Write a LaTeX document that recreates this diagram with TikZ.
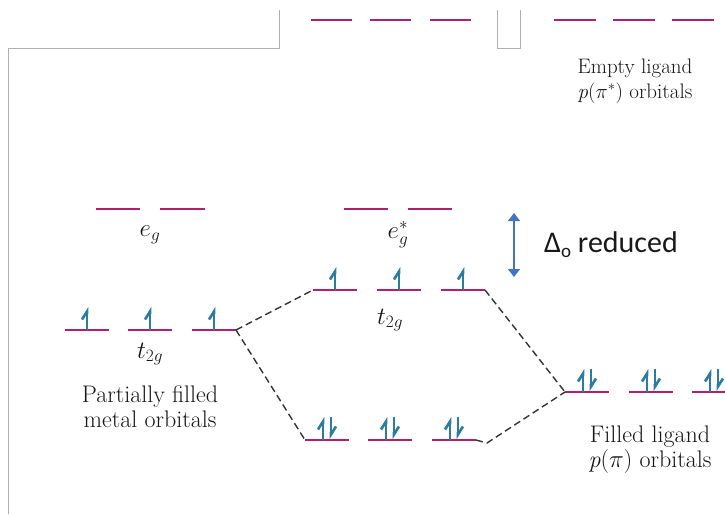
\documentclass[tikz,border=0pt]{standalone}
\usepackage{fontspec}
\newfontfamily\calib{Carlito}
\usetikzlibrary{arrows.meta}
\definecolor{lvl}{HTML}{B0206E}
\definecolor{spin}{HTML}{2B7C9E}
\definecolor{dblue}{HTML}{4472C4}
\definecolor{frame}{HTML}{B0B0B0}
\definecolor{txt}{HTML}{151515}
\tikzset{
  level/.style={draw=lvl, line width=1.8pt},
  conn/.style={draw=black!80, line width=1.4pt, dash pattern=on 7pt off 4pt},
  lbl/.style={font=\fontsize{24}{25}\selectfont, text=txt, align=center, inner sep=0pt},
  sym/.style={font=\fontsize{25}{26}\selectfont, text=txt, inner sep=0pt},
  upe/.style={draw=spin, line width=2.6pt, -{Straight Barb[left,length=8pt,width=10pt]}},
}
\newcommand{\orb}[4]{% name, x1, x2, y
  \coordinate (#1L) at (#2,#4);
  \coordinate (#1R) at (#3,#4);
  \draw[level] (#1L) -- (#1R);
}
\newcommand{\upspin}[2]{% xc, y
  \draw[upe] (#1,#2) -- (#1,#2-23);
}
\newcommand{\pairspin}[2]{%
  \draw[upe] (#1-4,#2) -- (#1-4,#2-23);
  \draw[upe] (#1+4,#2-23) -- (#1+4,#2-1);
}
\begin{document}
\begin{tikzpicture}[x=1pt,y=-1pt]
\useasboundingbox (0,0) rectangle (725,514);
% frame lines
\draw[frame, line width=0.8pt] (279,10) -- (279,48) -- (8,48) -- (8,514);
\draw[frame, line width=0.8pt] (497,10) -- (497,48) -- (520,48) -- (520,10);
% top empty ligand pi*
\orb{pa}{311}{352}{20}
\orb{pb}{370}{411}{20}
\orb{pc}{430}{471}{20}
\orb{qa}{554}{596}{20}
\orb{qb}{613}{655}{20}
\orb{qc}{672}{714}{20}
\node[lbl, font=\fontsize{21}{25}\selectfont] (emptylbl) at (635,81) {Empty ligand\\\textit{p}($\pi^{*}$) orbitals};
% metal eg
\orb{ega}{96}{140}{209}
\orb{egb}{160}{205}{209}
\node[sym] (eglbl) at (150,235) {$e_g$};
% eg*
\orb{esa}{344}{388}{209}
\orb{esb}{408}{452}{209}
\node[sym] (eslbl) at (398,235) {$e_g^{*}$};
% delta arrow
\coordinate (dtop) at (514,213);
\coordinate (dbot) at (514,277);
\draw[dblue, line width=1.5pt, {Triangle[length=8pt,width=12pt]}-{Triangle[length=8pt,width=12pt]}] (dtop) -- (dbot);
\node[font=\calib\fontsize{30}{32}\selectfont, anchor=west, inner sep=0pt, text=black!90] (dlbl) at (544,245) {Δ\raisebox{-5pt}{\fontsize{19}{19}\selectfont o} reduced};
% metal t2g
\orb{ma}{65}{109}{330}
\orb{mb}{128}{172}{330}
\orb{mc}{192}{236}{330}
\upspin{87}{330}
\upspin{150}{330}
\upspin{214}{330}
\node[sym] (mt2g) at (150,354) {$t_{2g}$};
\node[lbl] (metlbl) at (150,407) {Partially filled\\metal orbitals};
% antibonding t2g*
\orb{aa}{313}{357}{290}
\orb{ab}{377}{421}{290}
\orb{ac}{441}{485}{290}
\upspin{335}{290}
\upspin{399}{290}
\upspin{463}{290}
\node[sym] (at2g) at (390,320) {$t_{2g}$};
% bonding
\orb{ba}{305}{349}{440}
\orb{bb}{368}{412}{440}
\orb{bc}{432}{476}{440}
\pairspin{327}{440}
\pairspin{390}{440}
\pairspin{454}{440}
% ligand filled pi
\orb{la}{565}{609}{392}
\orb{lb}{629}{673}{392}
\orb{lc}{692}{736}{392}
\pairspin{587}{392}
\pairspin{651}{392}
\pairspin{714}{392}
\node[lbl] (filllbl) at (650,450) {Filled ligand\\\textit{p}($\pi$) orbitals};
% correlation lines
\draw[conn] (mcR) -- (aaL);
\draw[conn] (mcR) -- (baL);
\draw[conn] (acR) -- (laL);
\draw[conn] (bcR) -- ++(11,3) coordinate (bcx) -- (laL);
\end{tikzpicture}
\end{document}
